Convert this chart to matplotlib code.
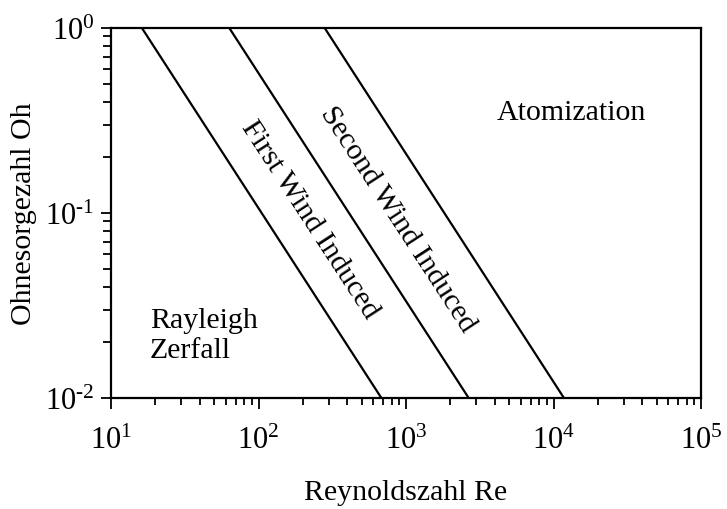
import numpy as np
import matplotlib
matplotlib.use("Agg")
import matplotlib.pyplot as plt
from matplotlib.ticker import LogLocator, FuncFormatter, NullFormatter

plt.rcParams['font.family'] = 'Liberation Serif'
plt.rcParams['mathtext.fontset'] = 'custom'
plt.rcParams['mathtext.rm'] = 'Liberation Serif'
plt.rcParams['mathtext.it'] = 'Liberation Serif:italic'

# regime boundaries: (Re at Oh=1, Re at Oh=0.01)
boundary_names = ["Rayleigh / First Wind", "First / Second Wind", "Second Wind / Atomization"]
re_top = [16.2, 63.4, 281]
re_bottom = [681, 2660, 11770]
oh_top = 1.0
oh_bottom = 0.01

region_labels = ["Rayleigh\nZerfall", "First Wind Induced", "Second Wind Induced", "Atomization"]


def pow_label(v, pos):
    e = int(round(np.log10(v)))
    if e < 0:
        return r'10$^{\text{-}%d}$' % -e
    return r'10$^{%d}$' % e


fig = plt.figure(figsize=(7.27, 5.10), dpi=100)
ax = fig.add_axes([111/727, 1 - 399/510, 590/727, 370/510])

for top, bot in zip(re_top, re_bottom):
    ax.plot([top, bot], [oh_top, oh_bottom], color='black', lw=1.6)

ax.set_xscale('log')
ax.set_yscale('log')
ax.set_xlim(10, 1e5)
ax.set_ylim(1e-2, 1)

fmt = FuncFormatter(pow_label)
ax.xaxis.set_major_locator(LogLocator(base=10, numticks=10))
ax.yaxis.set_major_locator(LogLocator(base=10, numticks=10))
ax.xaxis.set_minor_locator(LogLocator(base=10, subs=np.arange(2, 10), numticks=20))
ax.yaxis.set_minor_locator(LogLocator(base=10, subs=np.arange(2, 10), numticks=20))
ax.xaxis.set_major_formatter(fmt)
ax.yaxis.set_major_formatter(fmt)
ax.xaxis.set_minor_formatter(NullFormatter())
ax.yaxis.set_minor_formatter(NullFormatter())

ax.tick_params(which='both', direction='out', top=False, right=False, width=1.3, labelsize=22)
ax.tick_params(axis='x', which='major', length=8, pad=12)
ax.tick_params(axis='x', which='minor', length=5)
ax.tick_params(axis='y', which='major', length=7, pad=5)
ax.tick_params(axis='y', which='minor', length=6)
for s in ax.spines.values():
    s.set_linewidth(1.6)

ax.set_xlabel("Reynoldszahl Re", fontsize=21.5, labelpad=17)
ax.set_ylabel("Ohnesorgezahl Oh", fontsize=21.5, labelpad=6)

# region annotations
ax.text(0.066, 0.111, region_labels[0], transform=ax.transAxes, fontsize=21.5,
        ha='left', va='baseline', linespacing=1.2)
ax.text(223, 0.093, region_labels[1], fontsize=21.5, rotation=-57,
        ha='center', va='center', rotation_mode='anchor')
ax.text(883, 0.093, region_labels[2], fontsize=21.5, rotation=-57,
        ha='center', va='center', rotation_mode='anchor')
ax.text(0.781, 0.773, region_labels[3], transform=ax.transAxes, fontsize=21.5,
        ha='center', va='center')

fig.savefig("out.png", dpi=100)
